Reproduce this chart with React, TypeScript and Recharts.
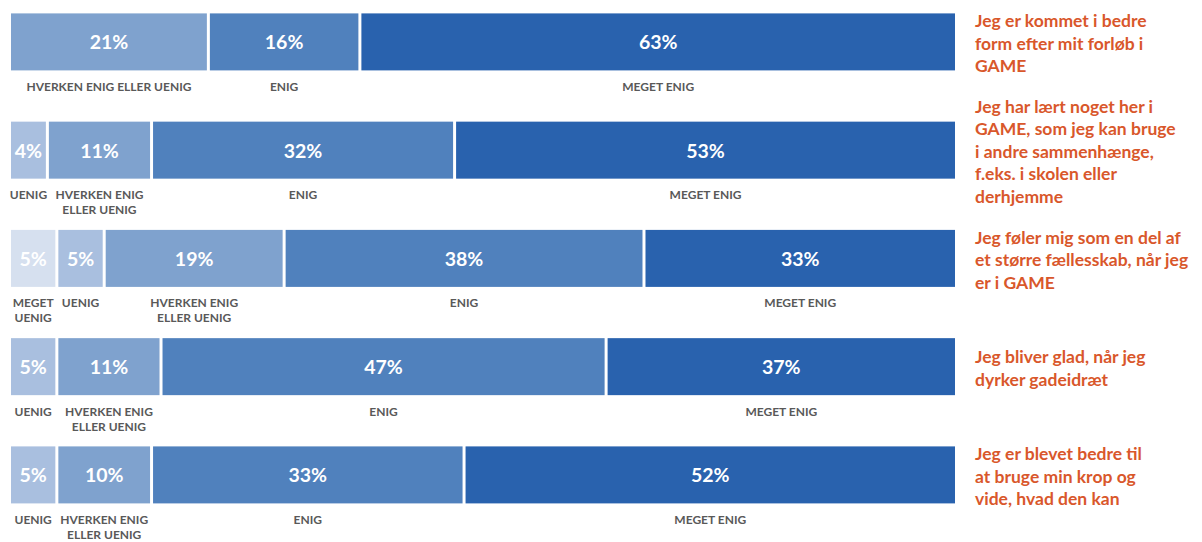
import React from 'react';
import { BarChart, Bar, XAxis, YAxis, LabelList } from 'recharts';

const questionIds = ['q1', 'q2', 'q3', 'q4', 'q5'];
const questionLines: string[][] = [
  ['Jeg er kommet i bedre', 'form efter mit forløb i', 'GAME'],
  ['Jeg har lært noget her i', 'GAME, som jeg kan bruge', 'i andre sammenhænge,', 'f.eks. i skolen eller', 'derhjemme'],
  ['Jeg føler mig som en del af', 'et større fællesskab, når jeg', 'er i GAME'],
  ['Jeg bliver glad, når jeg', 'dyrker gadeidræt'],
  ['Jeg er blevet bedre til', 'at bruge min krop og', 'vide, hvad den kan'],
];

const megetUenig = [0, 0, 5, 0, 0];
const uenig = [0, 4, 5, 5, 5];
const hverken = [21, 11, 19, 11, 10];
const enig = [16, 32, 38, 47, 33];
const megetEnig = [63, 53, 33, 37, 52];

const seriesKeys = ['megetUenig', 'uenig', 'hverken', 'enig', 'megetEnig'];
const seriesNames = ['MEGET UENIG', 'UENIG', 'HVERKEN ENIG ELLER UENIG', 'ENIG', 'MEGET ENIG'];
const seriesColors = ['#d6e0ef', '#a9bfdf', '#7fa2ce', '#5081bd', '#2962ae'];
const seriesValues = [megetUenig, uenig, hverken, enig, megetEnig];

const data = questionIds.map((id, i) => {
  const row: Record<string, any> = { id };
  seriesKeys.forEach((k, s) => {
    row[k] = seriesValues[s][i];
  });
  return row;
});

const FONT = 'Lato, "Noto Sans", sans-serif';
const GAP = 3;
const CHAR_W = 6.85;

function wrapLabel(text: string, width: number): string[] {
  if (text.length * CHAR_W <= width - 25) return [text];
  const words = text.split(' ');
  if (words.length < 2) return [text];
  let best = [text];
  let bestLen = Infinity;
  for (let i = 1; i < words.length; i++) {
    const a = words.slice(0, i).join(' ');
    const b = words.slice(i).join(' ');
    const m = Math.max(a.length, b.length);
    if (m < bestLen) {
      bestLen = m;
      best = [a, b];
    }
  }
  return best;
}

const makeLabel = (name: string) => (props: any) => {
  const { x, y, width, height, value } = props;
  if (!value) return null;
  const w = Number(width) - GAP;
  const cx = Number(x) + w / 2;
  const lines = wrapLabel(name, w);
  const below = Number(y) + Number(height) + 16;
  return (
    <g>
      <text
        x={cx}
        y={Number(y) + Number(height) / 2}
        textAnchor="middle"
        dominantBaseline="central"
        fill="#ffffff"
        fontFamily={FONT}
        fontWeight={700}
        fontSize={19.5}
      >
        {`${value}%`}
      </text>
      {lines.map((ln, i) => (
        <text
          key={i}
          x={cx}
          y={below + i * 15}
          textAnchor="middle"
          dominantBaseline="central"
          fill="#595959"
          fontFamily={FONT}
          fontWeight={700}
          fontSize={12}
        >
          {ln}
        </text>
      ))}
    </g>
  );
};

const makeShape = (color: string) => (props: any) => {
  const { x, y, width, height } = props;
  const w = Math.max(Number(width) - GAP, 0);
  if (!w) return null;
  return <rect x={x} y={y} width={w} height={height} fill={color} />;
};

const QuestionTick = (props: any) => {
  const { x, y, payload } = props;
  const lines = questionLines[payload.index] || [];
  const lh = 22.5;
  const start = Number(y) + 1.5 - ((lines.length - 1) * lh) / 2;
  return (
    <g>
      {lines.map((ln, i) => (
        <text
          key={i}
          x={Number(x) + 9}
          y={start + i * lh}
          textAnchor="start"
          dominantBaseline="central"
          fill="#d9572b"
          fontFamily={FONT}
          fontWeight={700}
          fontSize={17.5}
        >
          {ln}
        </text>
      ))}
    </g>
  );
};

export default function App() {
  return (
    <div style={{ width: 1202, height: 542, background: '#ffffff' }}>
      <style>{'body{margin:0}'}</style>
      <BarChart
        width={1202}
        height={542}
        data={data}
        layout="vertical"
        margin={{ top: -12.6, right: 0, bottom: 13.35, left: 11 }}
        barSize={57}
      >
        <XAxis type="number" domain={[0, 100]} hide />
        <YAxis
          type="category"
          dataKey="id"
          orientation="right"
          width={244}
          axisLine={false}
          tickLine={false}
          tick={<QuestionTick />}
          interval={0}
        />
        {seriesKeys.map((k, s) => (
          <Bar
            key={k}
            dataKey={k}
            stackId="a"
            fill={seriesColors[s]}
            shape={makeShape(seriesColors[s])}
            isAnimationActive={false}
          >
            <LabelList dataKey={k} content={makeLabel(seriesNames[s])} />
          </Bar>
        ))}
      </BarChart>
    </div>
  );
}
